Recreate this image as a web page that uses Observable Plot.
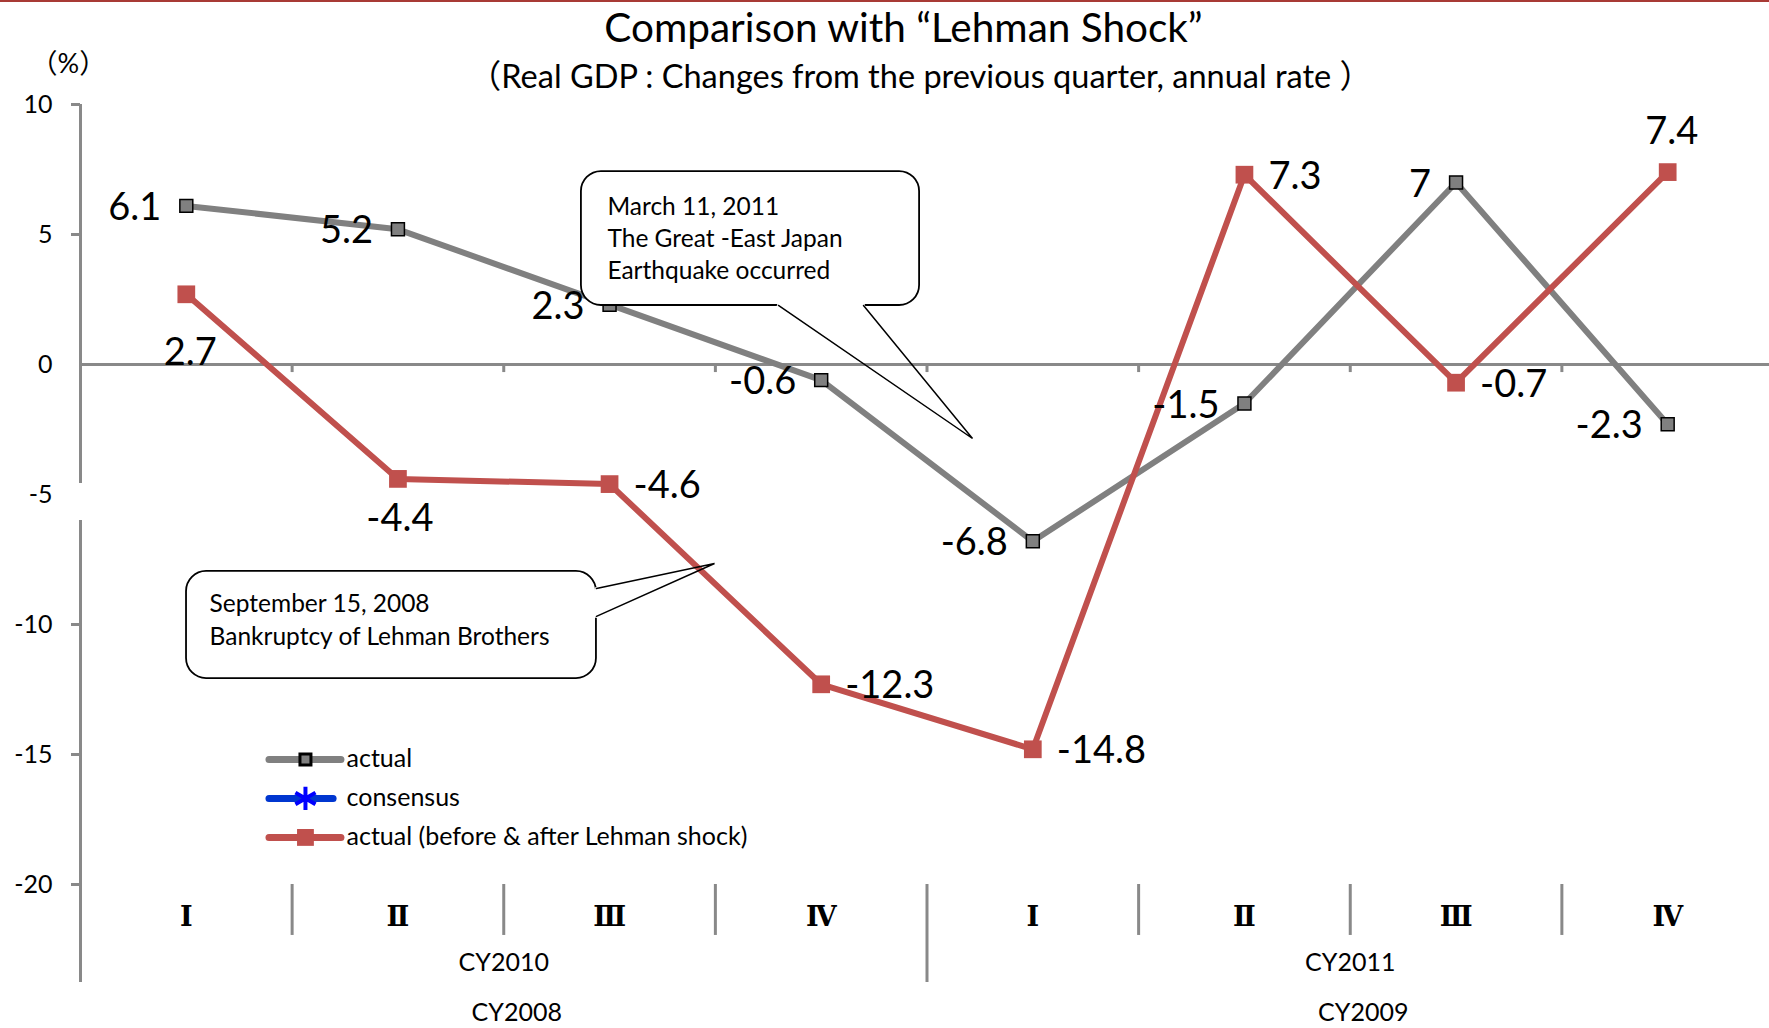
<!DOCTYPE html>
<html><head><meta charset="utf-8">
<script src="https://cdn.jsdelivr.net/npm/d3@7"></script>
<script src="https://cdn.jsdelivr.net/npm/@observablehq/plot@0.6"></script>
<style>
html,body{margin:0;padding:0;background:#fff;}
#wrap{position:relative;width:1769px;height:1028px;overflow:hidden;}
#topline{position:absolute;left:0;top:0;width:1769px;height:2px;background:#a83a35;}
</style></head><body><div id="wrap"><div id="topline"></div></div>
<script>
// ---------- data ----------
const quarters = ["Ⅰ","Ⅱ","Ⅲ","Ⅳ","Ⅰ","Ⅱ","Ⅲ","Ⅳ"];
const yearsUpper = ["CY2010","CY2011"];
const yearsLower = ["CY2008","CY2009"];
const actual2010_11 = [6.1, 5.2, 2.3, -0.6, -6.8, -1.5, 7, -2.3];
const actual2008_09 = [2.7, -4.4, -4.6, -12.3, -14.8, 7.3, -0.7, 7.4];
const yTicks = [10, 5, 0, -5, -10, -15, -20];
const legendLabels = ["actual", "consensus", "actual (before & after Lehman shock)"];
const titleText = "Comparison with “Lehman Shock”";
const subtitleText = "（Real GDP : Changes from the previous quarter, annual rate ）";
const unitText = "（%）";
const quakeNote = ["March 11, 2011", "The Great -East Japan", "Earthquake occurred"];
const lehmanNote = ["September 15, 2008", "Bankruptcy of Lehman Brothers"];

// ---------- layout / style (not data) ----------
const FONT = "Lato, 'Noto Sans CJK JP', sans-serif";
const GRAY = "#808080", AXIS = "#898989", RED = "#C0504D";
const idx = quarters.map((_, i) => i + 1);
const bounds = [1.5, 2.5, 3.5, 4.5, 5.5, 6.5, 7.5];
const gray = idx.map((i, k) => ({x: i, y: actual2010_11[k], t: String(actual2010_11[k])}));
const red = idx.map((i, k) => ({x: i, y: actual2008_09[k], t: String(actual2008_09[k])}));
// label placement for red series: [textAnchor, dx, dy]
const redPlace = [["middle",4,58],["middle",2,39],["start",24,1],["start",24,1],["start",24,1],["start",24,1],["start",24,1],["middle",4,-41]];
const LABEL = 38;

const marks = [];
// zero axis
marks.push(Plot.ruleY([0], {x1: 0.5, x2: 8.5, stroke: AXIS, strokeWidth: 3}));
marks.push(Plot.ruleX(bounds, {x: d => d, y1: 0, y2: -0.31, stroke: AXIS, strokeWidth: 3}));
// y axis (with the break near -5)
marks.push(Plot.ruleX([[10, -4.58], [-6.0, -23.77]], {x: 0.5, y1: d => d[0], y2: d => d[1], stroke: AXIS, strokeWidth: 3}));
marks.push(Plot.ruleY([10, 5, -10, -15, -20], {y: d => d, x1: 0.4575, x2: 0.5, stroke: AXIS, strokeWidth: 3}));
marks.push(Plot.text(yTicks, {x: 0.5, y: d => d, text: d => String(d), textAnchor: "end", dx: -28, fontSize: 25}));
// bottom category axis
marks.push(Plot.ruleX(bounds, {x: d => d, y1: -20, y2: d => d === 4.5 ? -23.77 : -21.96, stroke: AXIS, strokeWidth: 3}));
marks.push(Plot.text(quarters, {x: (d, i) => i + 1, y: -21.27, text: d => d, fontSize: 27, fontWeight: 600, fontFamily: "'DejaVu Serif', serif"}));
marks.push(Plot.text(yearsUpper, {x: (d, i) => 2.5 + 4 * i, y: -23.0, text: d => d, fontSize: 25}));
marks.push(Plot.text(yearsLower, {x: (d, i) => 2.5 + 4 * i, y: -24.96, text: d => d, fontSize: 25, dx: 13}));
// series
marks.push(Plot.line(gray, {x: "x", y: "y", stroke: GRAY, strokeWidth: 6, strokeLinejoin: "round"}));
marks.push(Plot.line(red, {x: "x", y: "y", stroke: RED, strokeWidth: 6, strokeLinejoin: "round"}));
marks.push(Plot.dot(gray, {x: "x", y: "y", symbol: "square", r: 7.3, fill: GRAY, stroke: "black", strokeWidth: 1.5}));
marks.push(Plot.dot(red, {x: "x", y: "y", symbol: "square", r: 10, fill: RED, stroke: "none"}));
marks.push(Plot.text(gray, {x: "x", y: "y", text: "t", textAnchor: "end", dx: -25, dy: 2, fontSize: LABEL}));
red.forEach((d, k) => {
  const [a, dx, dy] = redPlace[k];
  marks.push(Plot.text([d], {x: "x", y: "y", text: "t", textAnchor: a, dx, dy: dy + 1, fontSize: LABEL}));
});
// legend
const legY = [-15.19, -16.69, -18.19];
marks.push(Plot.ruleY([legY[0]], {x1: 1.393, x2: 1.733, stroke: GRAY, strokeWidth: 7, strokeLinecap: "round"}));
marks.push(Plot.dot([legY[0]], {x: 1.563, y: d => d, symbol: "square", r: 6.2, fill: GRAY, stroke: "black", strokeWidth: 3}));
marks.push(Plot.ruleY([legY[1]], {x1: 1.393, x2: 1.696, stroke: "#0036d0", strokeWidth: 7, strokeLinecap: "round"}));
marks.push(Plot.dot([legY[1]], {x: 1.563, y: d => d, symbol: "asterisk", r: 11, stroke: "#0000ff", strokeWidth: 4}));
marks.push(Plot.ruleY([legY[2]], {x1: 1.393, x2: 1.733, stroke: RED, strokeWidth: 7, strokeLinecap: "round"}));
marks.push(Plot.dot([legY[2]], {x: 1.563, y: d => d, symbol: "square", r: 9.5, fill: RED, stroke: "none"}));
marks.push(Plot.text(legendLabels, {x: 1.757, y: (d, i) => legY[i], text: d => d, textAnchor: "start", fontSize: 25}));
// callout: earthquake
marks.push(Plot.rect([0], {x1: 2.867, x2: 4.465, y1: 7.42, y2: 2.27, rx: 20, fill: "white", stroke: "black", strokeWidth: 1.8}));
marks.push(Plot.line([[3.80, 2.27], [4.198, 2.27]], {x: d => d[0], y: d => d[1], stroke: "white", strokeWidth: 4}));
marks.push(Plot.line([[3.798, 2.27], [4.715, -2.846], [4.200, 2.27]], {x: d => d[0], y: d => d[1], stroke: "black", strokeWidth: 1.5, strokeLinejoin: "miter"}));
marks.push(Plot.text([quakeNote.join("\n")], {x: 2.990, y: 4.90, text: d => d, textAnchor: "start", lineAnchor: "middle", lineHeight: 1.3, fontSize: 24.5}));
// callout: Lehman
marks.push(Plot.rect([0], {x1: 1.001, x2: 2.938, y1: -7.96, y2: -12.08, rx: 20, fill: "white", stroke: "black", strokeWidth: 1.8}));
marks.push(Plot.line([[2.938, -8.63], [2.938, -9.675]], {x: d => d[0], y: d => d[1], stroke: "white", strokeWidth: 4}));
marks.push(Plot.line([[2.938, -8.615], [3.496, -7.654], [2.938, -9.69]], {x: d => d[0], y: d => d[1], stroke: "black", strokeWidth: 1.5, strokeLinejoin: "miter"}));
marks.push(Plot.text([lehmanNote.join("\n")], {x: 1.110, y: -9.75, text: d => d, textAnchor: "start", lineAnchor: "middle", lineHeight: 1.33, fontSize: 24.5}));
// titles
marks.push(Plot.text([titleText], {x: 4.389, y: 12.92, text: d => d, fontSize: 40.5}));
marks.push(Plot.text([subtitleText], {x: 4.469, y: 11.04, text: d => d, fontSize: 32.5}));
marks.push(Plot.text([unitText], {x: 0.443, y: 11.54, text: d => d, fontSize: 27}));

const chart = Plot.plot({
  width: 1769, height: 1028,
  marginTop: 104, marginBottom: 144, marginLeft: 80, marginRight: 0,
  x: {type: "linear", domain: [0.5, 8.5], range: [80, 1773], axis: null},
  y: {type: "linear", domain: [-20, 10], range: [884, 104], axis: null},
  style: {fontFamily: FONT, fontSize: "25px", background: "white", color: "black", overflow: "visible"},
  marks
});
chart.style.position = "absolute";
chart.style.left = "0px";
chart.style.top = "0px";
document.getElementById("wrap").insertBefore(chart, document.getElementById("topline"));
</script>
</body></html>
